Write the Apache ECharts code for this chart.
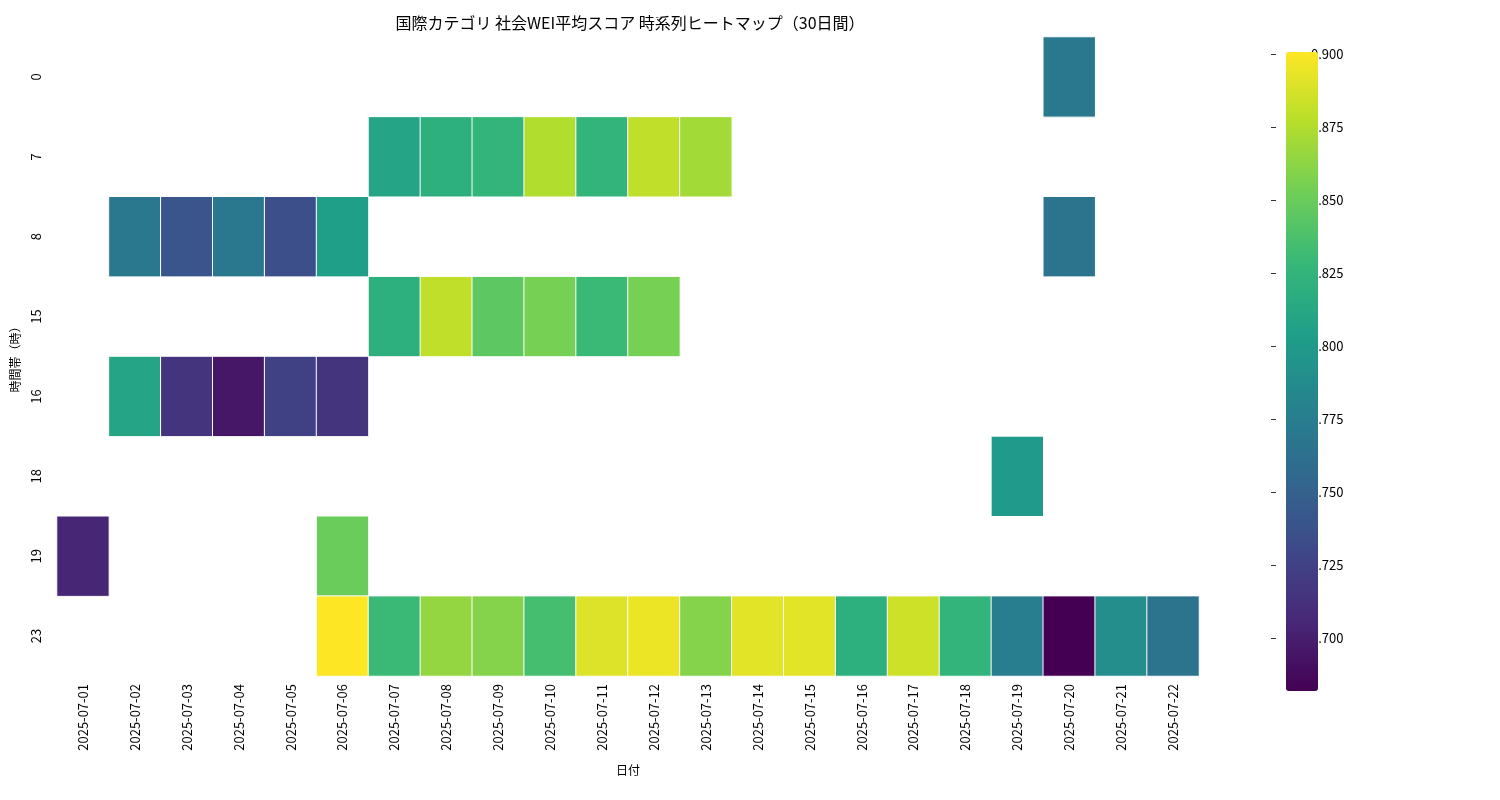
<!DOCTYPE html><html><head><meta charset="utf-8">
<script src="https://cdn.jsdelivr.net/npm/echarts@6/dist/echarts.min.js"></script>
<style>body{margin:0}#c{width:1500px;height:800px}</style></head><body><div id="c"></div>
<script>
const dates=['2025-07-01','2025-07-02','2025-07-03','2025-07-04','2025-07-05','2025-07-06','2025-07-07','2025-07-08','2025-07-09','2025-07-10','2025-07-11','2025-07-12','2025-07-13','2025-07-14','2025-07-15','2025-07-16','2025-07-17','2025-07-18','2025-07-19','2025-07-20','2025-07-21','2025-07-22'];
const hours=['0','7','8','15','16','18','19','23'];
const row0={'2025-07-20':0.775};
const row7={'2025-07-07':0.815,'2025-07-08':0.825,'2025-07-09':0.83,'2025-07-10':0.88,'2025-07-11':0.83,'2025-07-12':0.885,'2025-07-13':0.875};
const row8={'2025-07-02':0.775,'2025-07-03':0.745,'2025-07-04':0.775,'2025-07-05':0.74,'2025-07-06':0.81,'2025-07-20':0.77};
const row15={'2025-07-07':0.825,'2025-07-08':0.885,'2025-07-09':0.85,'2025-07-10':0.86,'2025-07-11':0.835,'2025-07-12':0.86};
const row16={'2025-07-02':0.815,'2025-07-03':0.72,'2025-07-04':0.70,'2025-07-05':0.73,'2025-07-06':0.72};
const row18={'2025-07-19':0.805};
const row19={'2025-07-01':0.71,'2025-07-06':0.855};
const row23={'2025-07-06':0.906,'2025-07-07':0.835,'2025-07-08':0.87,'2025-07-09':0.865,'2025-07-10':0.84,'2025-07-11':0.895,'2025-07-12':0.9,'2025-07-13':0.865,'2025-07-14':0.897,'2025-07-15':0.897,'2025-07-16':0.825,'2025-07-17':0.89,'2025-07-18':0.83,'2025-07-19':0.78,'2025-07-20':0.687,'2025-07-21':0.795,'2025-07-22':0.77};
const rows=[row0,row7,row8,row15,row16,row18,row19,row23];
const cbTicks=[0.700,0.725,0.750,0.775,0.800,0.825,0.850,0.875,0.900];
const vmin=0.687,vmax=0.906;
const data=[];
rows.forEach((r,yi)=>{for(const d in r)data.push([dates.indexOf(d),yi,r[d]]);});
const viridis=['#440154','#482878','#3e4989','#31688e','#26828e','#1f9e89','#35b779','#6ece58','#b5de2b','#fde725'];
const F='"Noto Sans CJK JP", sans-serif';
const chart=echarts.init(document.getElementById('c'));
chart.setOption({
 textStyle:{fontFamily:F},
 title:{text:'国際カテゴリ 社会WEI平均スコア 時系列ヒートマップ（30日間）',left:625,top:10,textAlign:'center',textStyle:{fontSize:16,fontWeight:'normal',color:'#000',fontFamily:F}},
 grid:[{left:57,right:301,top:37,bottom:124},{left:1271,width:32,top:37,bottom:124}],
 xAxis:[{type:'category',data:dates,gridIndex:0,name:'日付',nameLocation:'middle',nameGap:88,nameTextStyle:{color:'#000',fontSize:12},
  axisLine:{show:false},axisTick:{alignWithLabel:true,length:5,lineStyle:{color:'#333'}},axisLabel:{rotate:90,color:'#000',fontSize:13,fontFamily:F},splitLine:{show:false}},
  {type:'value',gridIndex:1,show:false,min:0,max:1}],
 yAxis:[{type:'category',data:hours,inverse:true,gridIndex:0,name:'時間帯（時）',nameLocation:'middle',nameGap:36,nameRotate:90,nameTextStyle:{color:'#000',fontSize:12},
  axisLine:{show:false},axisTick:{alignWithLabel:true,length:5,lineStyle:{color:'#333'}},axisLabel:{rotate:90,color:'#000',fontSize:13,margin:14}},
  {type:'value',gridIndex:1,position:'right',min:vmin,max:vmax,axisLine:{show:false},splitLine:{show:false},
   axisTick:{show:true,length:5,customValues:cbTicks,lineStyle:{color:'#333'}},
   axisLabel:{customValues:cbTicks,formatter:v=>v.toFixed(3),color:'#000',fontSize:13,margin:8}}],
 visualMap:{type:'continuous',min:vmin,max:vmax,seriesIndex:0,calculable:false,left:1271,top:37,itemWidth:32,itemHeight:639,text:['',''],showLabel:false,inRange:{color:viridis}},
 series:[{type:'heatmap',data:data,xAxisIndex:0,yAxisIndex:0,itemStyle:{borderColor:'#fff',borderWidth:1}}]
});
</script></body></html>
